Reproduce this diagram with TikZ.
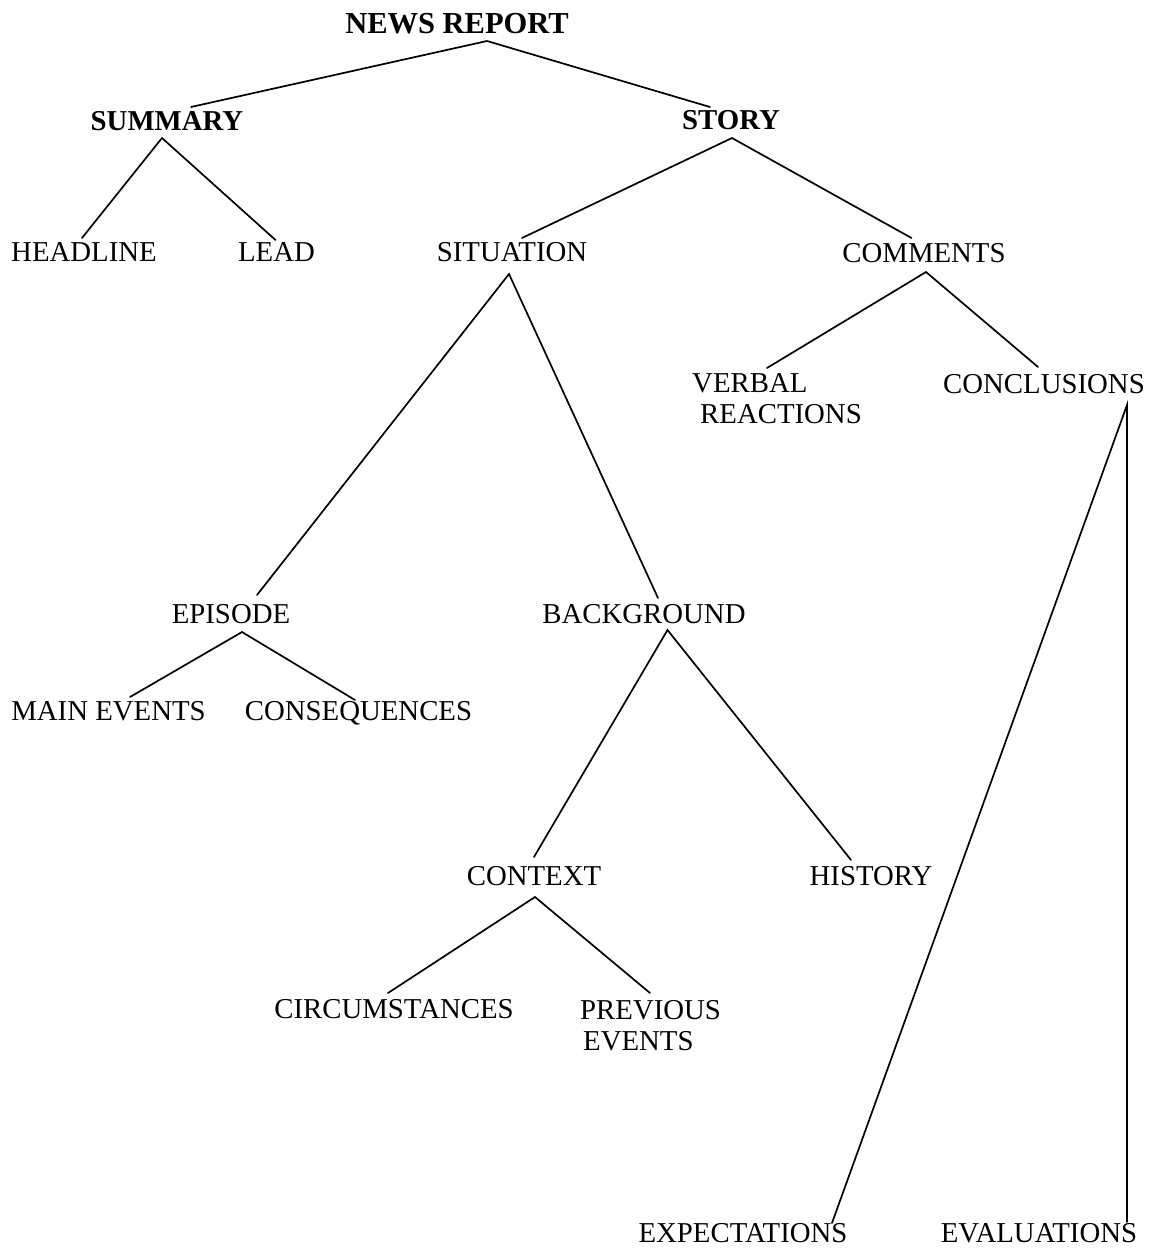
\documentclass[tikz,border=0pt]{standalone}
\usepackage{fontspec}
\setmainfont{Liberation Serif}
\begin{document}
\begin{tikzpicture}[x=1pt,y=-1pt,
  lbl/.style={inner sep=0pt, anchor=base, font=\fontsize{28.8}{32}\selectfont},
  blbl/.style={inner sep=0pt, anchor=base, font=\fontsize{28.8}{32}\selectfont\bfseries},
  mlbl/.style={inner sep=0pt, anchor=north west, align=left, font=\fontsize{28.8}{31.5}\selectfont},
  edge/.style={line width=1.7pt, line cap=round}]
\useasboundingbox[fill=white] (0,0) rectangle (1154,1253);

% nodes
\node[blbl, font=\fontsize{30.5}{34}\selectfont\bfseries] (nr) at (457,33) {NEWS REPORT};
\node[blbl] (sum) at (167,130) {SUMMARY};
\node[blbl] (sto) at (731,129) {STORY};
\node[lbl] (head) at (84,261) {HEADLINE};
\node[lbl] (lead) at (276.5,261) {LEAD};
\node[lbl] (sit) at (512,261) {SITUATION};
\node[lbl] (com) at (924,262) {COMMENTS};
\node[mlbl] (verb) at (692,373) {VERBAL\\\hspace*{8pt}REACTIONS};
\node[lbl] (conc) at (1044,393) {CONCLUSIONS};
\node[lbl] (epi) at (231,623) {EPISODE};
\node[lbl] (back) at (644,623) {BACKGROUND};
\node[lbl] (main) at (108.5,720) {MAIN EVENTS};
\node[lbl] (cons) at (358.5,720) {CONSEQUENCES};
\node[lbl] (ctx) at (534,885) {CONTEXT};
\node[lbl] (hist) at (871,885) {HISTORY};
\node[lbl] (circ) at (394,1018) {CIRCUMSTANCES};
\node[mlbl] (prev) at (580,1000) {PREVIOUS\\\hspace*{3pt}EVENTS};
\node[lbl] (expc) at (743,1242) {EXPECTATIONS};
\node[lbl] (eval) at (1039,1242) {EVALUATIONS};

% connectors
\draw[edge] ([shift={(24,-23)}]sum.base) -- ([shift={(30,8)}]nr.base) -- ([shift={(-21,-22)}]sto.base);
\draw[edge] ([shift={(-2,-23)}]head.base) -- ([shift={(-5,8)}]sum.base) -- ([shift={(-1,-21)}]lead.base);
\draw[edge] ([shift={(10,-23)}]sit.base) -- ([shift={(1,9)}]sto.base) -- ([shift={(-12.5,-24)}]com.base);
\draw[edge] ([shift={(75,-5)}]verb.north west) -- ([shift={(2,10)}]com.base) -- ([shift={(-6,-26)}]conc.base);
\draw[edge] ([shift={(26,-28)}]epi.base) -- ([shift={(-3,13)}]sit.base) -- ([shift={(14,-25)}]back.base);
\draw[edge] ([shift={(21.5,-23)}]main.base) -- ([shift={(11,9)}]epi.base) -- ([shift={(-3.5,-20)}]cons.base);
\draw[edge] ([shift={(0,-28)}]ctx.base) -- ([shift={(23.5,7)}]back.base) -- ([shift={(-20,-25)}]hist.base);
\draw[edge] ([shift={(-6,-25)}]circ.base) -- ([shift={(1,12)}]ctx.base) -- ([shift={(70,-7)}]prev.north west);
\draw[edge] ([shift={(89,-19)}]expc.base) -- ([shift={(83,12)}]conc.base) -- ([shift={(88,-20)}]eval.base);
\end{tikzpicture}
\end{document}
